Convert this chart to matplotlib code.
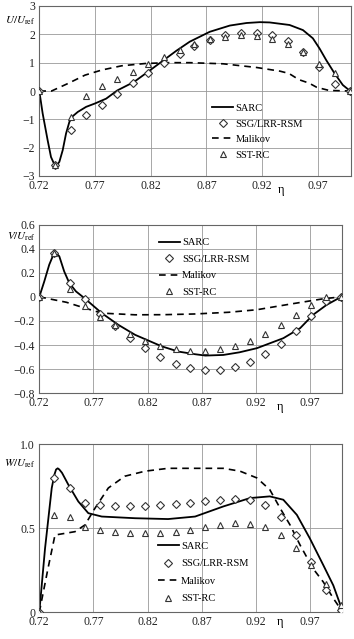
import numpy as np
import matplotlib
matplotlib.use('Agg')
import matplotlib.pyplot as plt

plt.rcParams['font.family'] = ['Liberation Serif', 'DejaVu Serif']
plt.rcParams['mathtext.fontset'] = 'stix'
plt.rcParams['axes.unicode_minus'] = True

## sample positions of the symbols (same in all three panels)
eta_pts = [0.720, 0.734, 0.748, 0.762, 0.776, 0.790, 0.804, 0.818, 0.832, 0.846, 0.859,
           0.873, 0.887, 0.901, 0.915, 0.929, 0.943, 0.957, 0.971, 0.985, 0.999]

## U / U_ref
u_ssg = [0, -2.60, -1.36, -0.83, -0.48, -0.11, 0.27, 0.62, 0.98, 1.31, 1.59,
         1.80, 1.97, 2.05, 2.05, 1.97, 1.75, 1.37, 0.85, 0.24, 0]
u_sst = [0, -2.60, -0.92, -0.18, 0.17, 0.42, 0.68, 0.94, 1.19, 1.44, 1.67,
         1.82, 1.92, 1.97, 1.95, 1.85, 1.66, 1.39, 0.96, 0.63, 0]
u_sarc_x = [0.720, 0.723, 0.7275, 0.7305, 0.7335, 0.7357, 0.738, 0.741, 0.744, 0.747,
            0.750, 0.7545, 0.762, 0.770, 0.780, 0.790, 0.805, 0.8176, 0.831, 0.843,
            0.855, 0.873, 0.891, 0.906, 0.918, 0.9267, 0.9446, 0.9566, 0.9655, 0.9715,
            0.9775, 0.985, 0.9924, 0.999]
u_sarc_y = [0, -0.79, -1.74, -2.33, -2.59, -2.62, -2.50, -2.09, -1.50, -1.09,
            -0.89, -0.74, -0.56, -0.44, -0.27, 0.02, 0.32, 0.68, 1.07, 1.42,
            1.74, 2.09, 2.31, 2.40, 2.43, 2.42, 2.33, 2.15, 1.86, 1.50,
            1.09, 0.62, 0.21, 0]
u_mal_x = [0.720, 0.731, 0.746, 0.761, 0.776, 0.794, 0.815, 0.835, 0.855, 0.885,
           0.915, 0.936, 0.944, 0.953, 0.962, 0.969, 0.980, 0.999]
u_mal_y = [0, 0.0, 0.27, 0.56, 0.74, 0.89, 0.97, 1.0, 1.0, 0.96,
           0.83, 0.70, 0.62, 0.40, 0.28, 0.13, 0.02, 0]

## V / U_ref
v_ssg = [0, 0.36, 0.115, -0.02, -0.14, -0.245, -0.34, -0.425, -0.495, -0.556, -0.587,
         -0.606, -0.606, -0.584, -0.54, -0.476, -0.39, -0.28, -0.157, -0.037, 0]
v_sst = [0, 0.36, 0.065, -0.08, -0.17, -0.237, -0.307, -0.365, -0.406, -0.434, -0.453,
         -0.453, -0.434, -0.406, -0.365, -0.307, -0.232, -0.154, -0.071, 0.0, 0]
v_sarc_x = [0.720, 0.7246, 0.7292, 0.7324, 0.7354, 0.7385, 0.743, 0.7477, 0.7539, 0.7616,
            0.7777, 0.793, 0.8085, 0.833, 0.8485, 0.864, 0.8735, 0.890, 0.905, 0.921,
            0.9455, 0.961, 0.973, 0.9856, 0.999]
v_sarc_y = [0, 0.128, 0.267, 0.336, 0.364, 0.336, 0.211, 0.115, 0.045, -0.01,
            -0.135, -0.232, -0.315, -0.41, -0.454, -0.476, -0.487, -0.482, -0.46, -0.426,
            -0.343, -0.26, -0.149, -0.066, 0]
v_mal_x = [0.720, 0.745, 0.762, 0.7777, 0.8085, 0.835, 0.864, 0.895, 0.921, 0.952,
           0.9825, 0.999]
v_mal_y = [0, -0.045, -0.093, -0.135, -0.149, -0.148, -0.142, -0.128, -0.107, -0.06,
           -0.016, 0]

## W / U_ref
w_ssg = [0, 0.80, 0.74, 0.65, 0.64, 0.63, 0.63, 0.63, 0.64, 0.645, 0.65,
         0.66, 0.67, 0.675, 0.67, 0.64, 0.57, 0.46, 0.30, 0.13, 0.015]
w_sst = [0, 0.58, 0.565, 0.51, 0.49, 0.48, 0.475, 0.475, 0.475, 0.48, 0.49,
         0.505, 0.52, 0.53, 0.525, 0.505, 0.46, 0.385, 0.28, 0.17, 0.045]
w_sarc_x = [0.720, 0.7253, 0.7315, 0.734, 0.7355, 0.737, 0.7385, 0.741, 0.7468, 0.756,
            0.7653, 0.7777, 0.8085, 0.839, 0.864, 0.890, 0.9147, 0.933, 0.9455, 0.958,
            0.970, 0.9825, 0.9917, 0.999]
w_sarc_y = [0, 0.38, 0.74, 0.82, 0.85, 0.857, 0.85, 0.83, 0.76, 0.66,
            0.59, 0.57, 0.56, 0.555, 0.57, 0.63, 0.68, 0.69, 0.67, 0.58,
            0.44, 0.28, 0.16, 0.03]
w_mal_x = [0.720, 0.728, 0.7345, 0.7438, 0.753, 0.7622, 0.7715, 0.7838, 0.799, 0.8177,
           0.839, 0.864, 0.890, 0.9055, 0.921, 0.933, 0.9425, 0.9517, 0.961, 0.973,
           0.9825, 0.9917, 0.999]
w_mal_y = [0, 0.26, 0.46, 0.47, 0.48, 0.52, 0.62, 0.74, 0.81, 0.84,
           0.857, 0.857, 0.857, 0.84, 0.80, 0.73, 0.62, 0.52, 0.40, 0.26,
           0.18, 0.083, 0.014]

xticks = [0.72, 0.77, 0.82, 0.87, 0.92, 0.97]
labels = ['SARC', 'SSG/LRR-RSM', 'Malikov', 'SST-RC']

W, H = 354, 639
fig = plt.figure(figsize=(W / 100, H / 100), dpi=100)

def box(l, t, r, b):
    return [l / W, 1 - b / H, (r - l) / W, (b - t) / H]

panels = [
    dict(rect=box(39.3, 6, 351.3, 176), ylim=(-3, 3), yticks=[-3, -2, -1, 0, 1, 2, 3],
         ytl=['\u22123', '\u22122', '\u22121', '0', '1', '2', '3'],
         sarc=(u_sarc_x, u_sarc_y), mal=(u_mal_x, u_mal_y), ssg=u_ssg, sst=u_sst,
         name='U', ylab=(20, 21), eta=(281, 190), leg=(0.555, 0.425), ls=0.6),
    dict(rect=box(39.3, 224.5, 342.3, 393.3), ylim=(-0.8, 0.6),
         yticks=[-0.8, -0.6, -0.4, -0.2, 0, 0.2, 0.4, 0.6],
         ytl=['\u22120.8', '\u22120.6', '\u22120.4', '\u22120.2', '0', '0.2', '0.4', '0.6'],
         sarc=(v_sarc_x, v_sarc_y), mal=(v_mal_x, v_mal_y), ssg=v_ssg, sst=v_sst,
         name='V', ylab=(21, 236.5), eta=(280, 407), leg=(0.395, 0.92), ls=0.7),
    dict(rect=box(39.3, 444.3, 342.3, 612.3), ylim=(0, 1.0), yticks=[0, 0.5, 1.0],
         ytl=['0', '0.5', '1.0'],
         sarc=(w_sarc_x, w_sarc_y), mal=(w_mal_x, w_mal_y), ssg=w_ssg, sst=w_sst,
         name='W', ylab=(20, 464), eta=(280, 622), leg=(0.392, 0.42), ls=0.78),
]

for p in panels:
    ax = fig.add_axes(p['rect'])
    ax.plot(p['sarc'][0], p['sarc'][1], color='black', lw=1.3, label=labels[0])
    ax.plot(eta_pts, p['ssg'], ls='none', marker='D', ms=4.4, mfc='white',
            mec='#333333', mew=0.8, label=labels[1], zorder=3)
    ax.plot(p['mal'][0], p['mal'][1], color='black', lw=1.2, ls=(0, (4, 3)), label=labels[2])
    ax.plot(eta_pts, p['sst'], ls='none', marker='^', ms=5, mfc='white',
            mec='#333333', mew=0.8, label=labels[3], zorder=3)
    ax.set_xlim(0.72, 1.0)
    ax.set_ylim(*p['ylim'])
    ax.set_xticks(xticks)
    ax.set_xticklabels([f'{t:.2f}' for t in xticks])
    ax.set_yticks(p['yticks'])
    ax.set_yticklabels(p['ytl'])
    ax.tick_params(length=0, labelsize=8.5, pad=3, colors='#222222')
    ax.grid(True, color='#999999', lw=0.6)
    for s in ax.spines.values():
        s.set_color('#666666')
        s.set_linewidth(0.8)
    ax.legend(loc='upper left', bbox_to_anchor=p['leg'], frameon=False, fontsize=7.5,
              handlelength=2.0, handletextpad=0.2, labelspacing=p['ls'],
              borderpad=0, borderaxespad=0)
    fig.text(p['ylab'][0] / W, 1 - p['ylab'][1] / H,
             '$' + p['name'] + r'/U_{\rm ref}$', ha='center', va='center', fontsize=8)
    fig.text(p['eta'][0] / W, 1 - p['eta'][1] / H, '\u03b7', ha='center', va='center',
             fontsize=9)

fig.savefig('out.png', dpi=100)
